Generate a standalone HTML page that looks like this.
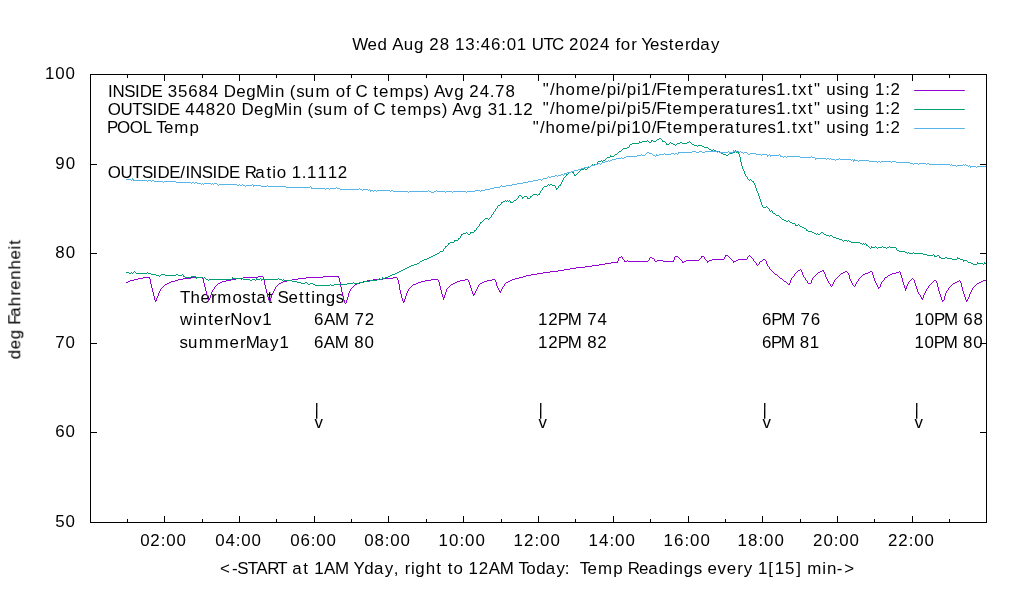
<!DOCTYPE html>
<html lang="en"><head><meta charset="utf-8"><title>Temperatures for Yesterday</title>
<style>html,body{margin:0;padding:0;background:#fff;}body{width:1020px;height:600px;overflow:hidden;font-family:"Liberation Sans",sans-serif;}svg{display:block;}text{font-family:"Liberation Sans",sans-serif;fill:#000;white-space:pre;}#text,#labels-back{filter:grayscale(1);}</style>
</head><body>
<svg width="1020" height="600" viewBox="0 0 1020 600">
<rect x="0" y="0" width="1020" height="600" fill="#ffffff"/>
<g id="labels-back">
<text transform="translate(0,302.80) scale(1.0,1)" x="180.01 190.49 200.57 211.00 217.37 232.44 242.14 251.21 256.38 267.39 273.15 277.61 288.56 298.94 305.26 311.17 315.71 325.79 335.78" y="0" font-size="16.9" xml:space="preserve">Thermostat Settings</text>
<text transform="translate(0,325.10) scale(1.0,1)" x="180.02 193.11 197.68 208.24 214.10 224.56 230.32 242.71 252.91 262.26" y="0" font-size="16.9" xml:space="preserve">winterNov1</text>
<text transform="translate(0,347.90) scale(1.0,1)" x="179.41 188.08 198.75 214.43 229.54 239.97 245.69 259.29 270.06 279.38" y="0" font-size="16.9" xml:space="preserve">summerMay1</text>
</g>
<g id="curves" fill="none" stroke-width="1" stroke-linejoin="miter" stroke-linecap="butt" shape-rendering="crispEdges">
<path stroke="#9400d3" d="M126,282.5h2M128,281.5h2M130,280.5h4M134,279.5h4M138,278.5h5M143,277.5h6M149.5,277v2M150.5,279v5M151.5,284v4M152.5,288v4M153.5,292v4M154.5,296v4M155.5,300v2M156.5,298v3M157.5,296v2M158.5,293v3M159.5,291v2M160.5,289v2M161,288.5h1M162,287.5h1M163,286.5h1M164,285.5h1M165,284.5h2M167,283.5h2M169,282.5h2M171,281.5h4M175,280.5h3M178,279.5h5M183,278.5h8M191,277.5h11M202.5,277v2M203.5,279v4M204.5,283v4M205.5,287v4M206.5,291v4M207.5,295v3M208.5,298v3M209.5,298v2M210.5,295v3M211.5,292v3M212.5,290v2M213,289.5h1M214.5,287v2M215,286.5h1M216,285.5h1M217,284.5h1M218,283.5h2M220,282.5h2M222,281.5h4M226,280.5h5M231,279.5h5M236,278.5h7M243,277.5h15M258,276.5h5M263.5,277v3M264.5,280v5M265.5,285v4M266.5,289v4M267.5,293v4M268.5,297v3M269.5,300v2M270.5,298v3M271.5,295v3M272.5,293v2M273.5,291v2M274.5,289v2M275.5,287v2M276,286.5h1M277,285.5h1M278,284.5h1M279,283.5h2M281,282.5h2M283,281.5h4M287,280.5h5M292,279.5h6M298,278.5h8M306,277.5h17M323,276.5h15M338.5,276v2M339.5,278v4M340.5,282v5M341.5,287v5M342.5,292v4M343.5,296v4M344.5,300v3M345,303.5h1M346.5,300v3M347.5,297v3M348.5,293v4M349.5,291v2M350.5,289v2M351,288.5h1M352,287.5h1M353,286.5h1M354,285.5h1M355,284.5h2M357,283.5h3M360,282.5h3M363,281.5h4M367,280.5h6M373,279.5h10M383,278.5h10M393,277.5h4M397.5,278v2M398.5,280v4M399.5,284v6M400.5,290v4M401.5,294v4M402.5,298v3M403.5,301v2M404.5,299v3M405.5,296v3M406.5,293v3M407.5,291v2M408.5,289v2M409,288.5h1M410,287.5h1M411,286.5h1M412,285.5h1M413,284.5h3M416,283.5h2M418,282.5h3M421,281.5h4M425,280.5h6M431,279.5h7M438.5,280v2M439.5,282v4M440.5,286v4M441.5,290v4M442.5,294v3M443.5,297v3M444.5,295v3M445.5,292v3M446.5,289v3M447,288.5h1M448,287.5h1M449,286.5h1M450,285.5h1M451,284.5h2M453,283.5h2M455,282.5h2M457,281.5h3M460,280.5h5M465,279.5h3M468.5,280v2M469.5,282v3M470.5,285v3M471.5,288v3M472.5,291v3M473.5,294v2M474.5,293v2M475.5,291v2M476.5,289v2M477.5,287v2M478.5,285v2M479,284.5h1M480,283.5h2M482,282.5h2M484,281.5h3M487,280.5h5M492,279.5h3M495.5,280v2M496.5,282v4M497.5,286v2M498.5,288v2M499.5,290v2M500.5,291v2M501.5,289v2M502.5,287v2M503,286.5h1M504.5,284v2M505,283.5h1M506,282.5h2M508,281.5h2M510,280.5h2M512,279.5h3M515,278.5h4M519,277.5h4M523,276.5h3M526,275.5h5M531,274.5h6M537,273.5h6M543,272.5h7M550,271.5h8M558,270.5h6M564,269.5h6M570,268.5h6M576,267.5h9M585,266.5h7M592,265.5h7M599,264.5h6M605,263.5h6M611,262.5h6M617.5,261v2M618.5,258v3M619,257.5h2M621,256.5h1M622.5,257v2M623,259.5h1M624.5,260v2M625,261.5h2M627,260.5h1M628,261.5h20M648,260.5h1M649.5,258v2M650,257.5h2M652,258.5h2M654.5,259v2M655,261.5h2M657,260.5h6M663,261.5h10M673.5,260v2M674.5,257v3M675,256.5h3M678,257.5h1M679,258.5h1M680,259.5h1M681,260.5h1M682.5,261v2M683,262.5h1M684,261.5h2M686,260.5h13M699,259.5h1M700,258.5h1M701.5,256v2M702,256.5h2M704.5,257v2M705,259.5h1M706,260.5h1M707.5,261v2M708,261.5h1M709,260.5h3M712,259.5h12M724.5,257v2M725.5,255v2M726,255.5h2M728,256.5h1M729,257.5h1M730,258.5h1M731,259.5h1M732,260.5h1M733.5,261v2M734,261.5h2M736,260.5h2M738,259.5h9M747.5,257v2M748,256.5h1M749,255.5h1M750,256.5h1M751,257.5h1M752,258.5h1M753.5,259v2M754,261.5h1M755,262.5h1M756.5,263v2M757,265.5h1M758,264.5h1M759.5,262v2M760,261.5h2M762,260.5h1M763,259.5h2M765,260.5h1M766.5,261v3M767.5,264v2M768,266.5h1M769.5,267v2M770,269.5h1M771,270.5h1M772,271.5h1M773,272.5h1M774,273.5h1M775,274.5h2M777,275.5h1M778,276.5h1M779,277.5h1M780,278.5h2M782,279.5h1M783,280.5h1M784,281.5h2M786,282.5h1M787,283.5h1M788,284.5h1M789.5,283v2M790.5,280v3M791.5,278v2M792,277.5h1M793,276.5h1M794.5,274v2M795,273.5h1M796,272.5h1M797,271.5h1M798,270.5h2M800,269.5h1M801.5,270v2M802.5,272v3M803.5,275v2M804,277.5h1M805.5,278v2M806,280.5h1M807.5,281v2M808,283.5h3M811.5,280v3M812.5,278v2M813,277.5h1M814,276.5h1M815,275.5h1M816,274.5h1M817,273.5h1M818,272.5h2M820,271.5h2M822,270.5h1M823.5,270v2M824.5,272v2M825.5,274v3M826.5,277v2M827.5,279v2M828.5,281v2M829,283.5h1M830.5,284v2M831,286.5h1M832.5,284v2M833.5,282v2M834.5,280v2M835,279.5h1M836,278.5h1M837,277.5h1M838,276.5h1M839,275.5h1M840,274.5h1M841,273.5h2M843,272.5h2M845,271.5h2M847,272.5h1M848.5,273v2M849.5,275v4M850.5,279v2M851.5,281v2M852.5,283v2M853,285.5h1M854,286.5h1M855.5,284v2M856.5,282v2M857,281.5h1M858.5,279v2M859,278.5h1M860,277.5h1M861,276.5h1M862,275.5h1M863,274.5h2M865,273.5h3M868,272.5h2M870,271.5h2M872.5,272v3M873.5,275v3M874.5,278v3M875.5,281v2M876.5,283v2M877.5,285v2M878.5,287v2M879,287.5h1M880.5,284v3M881.5,282v2M882,281.5h1M883,280.5h1M884.5,278v2M885,277.5h2M887,276.5h1M888,275.5h2M890,274.5h2M892,273.5h4M896,272.5h3M899,271.5h1M900.5,272v3M901.5,275v3M902.5,278v4M903.5,282v3M904.5,285v3M905.5,288v3M906.5,286v3M907.5,284v2M908.5,282v2M909,281.5h1M910,280.5h1M911,279.5h1M912,278.5h1M913,279.5h1M914.5,280v3M915.5,283v3M916.5,286v3M917.5,289v3M918.5,292v2M919,294.5h1M920.5,295v2M921.5,297v2M922.5,298v2M923.5,295v3M924.5,293v2M925.5,291v2M926.5,289v2M927,288.5h1M928.5,286v2M929,285.5h1M930,284.5h1M931,283.5h1M932,282.5h1M933,281.5h1M934,280.5h2M936.5,281v2M937.5,283v4M938.5,287v4M939.5,291v3M940.5,294v3M941.5,297v3M942.5,300v2M943,300.5h1M944.5,296v4M945.5,293v3M946.5,291v2M947,290.5h1M948.5,288v2M949,287.5h1M950,286.5h1M951,285.5h1M952,284.5h1M953,283.5h2M955,282.5h2M957,281.5h2M959,280.5h1M960.5,281v2M961.5,283v4M962.5,287v4M963.5,291v3M964.5,294v3M965.5,297v3M966.5,300v2M967.5,299v2M968.5,297v2M969.5,294v3M970.5,292v2M971.5,290v2M972.5,288v2M973,287.5h1M974,286.5h1M975,285.5h1M976,284.5h1M977,283.5h2M979,282.5h2M981,281.5h2M983,280.5h3"/>
<path stroke="#009e73" d="M126,272.5h3M129,273.5h2M131,272.5h1M132,273.5h1M133,272.5h1M134,271.5h1M135,272.5h1M136,273.5h11M147,272.5h1M148,273.5h3M151,274.5h5M156,275.5h3M159,276.5h1M160,275.5h1M161,274.5h4M165,275.5h11M176,274.5h2M178,275.5h4M182,274.5h1M183.5,275v2M184,276.5h1M185,277.5h6M191,276.5h5M196.5,277v2M197,277.5h6M203,278.5h1M204,277.5h1M205,278.5h1M206,279.5h2M208,280.5h1M209,279.5h23M232.5,277v2M233,278.5h8M241,279.5h1M242,278.5h1M243,279.5h7M250,280.5h2M252,279.5h3M255,280.5h1M256.5,278v2M257,279.5h3M260,278.5h1M261.5,279v2M262,279.5h16M278,278.5h1M279,279.5h3M282,280.5h1M283,279.5h1M284,280.5h8M292,281.5h5M297,282.5h4M301,283.5h4M305,282.5h2M307,283.5h1M308,284.5h2M310,283.5h3M313,284.5h2M315,285.5h15M330,284.5h1M331,285.5h3M334,284.5h13M347,283.5h6M353,282.5h1M354,283.5h5M359,282.5h5M364,281.5h6M370,280.5h7M377,279.5h2M379,278.5h1M380,279.5h2M382.5,277v2M383,278.5h2M385,277.5h3M388,276.5h2M390,275.5h2M392,274.5h3M395,273.5h2M397,272.5h2M399,271.5h2M401,270.5h2M403,269.5h2M405,268.5h2M407,267.5h2M409,266.5h2M411,265.5h3M414,264.5h3M417,263.5h2M419,262.5h1M420,261.5h2M422,260.5h2M424,259.5h3M427,258.5h2M429,257.5h2M431,256.5h2M433,255.5h2M435,254.5h2M437,253.5h2M439,252.5h1M440,251.5h3M443.5,249v2M444,248.5h1M445.5,246v2M446,246.5h1M447,245.5h1M448.5,243v2M449,243.5h1M450,242.5h4M454.5,240v2M455,240.5h3M458.5,238v2M459,238.5h1M460.5,236v2M461.5,234v2M462,234.5h1M463,233.5h3M466,232.5h1M467,233.5h1M468,234.5h2M470.5,232v2M471,232.5h3M474.5,230v2M475,230.5h1M476.5,228v2M477,227.5h1M478,226.5h1M479.5,224v2M480.5,222v2M481,222.5h1M482,221.5h1M483,220.5h1M484,219.5h1M485,218.5h3M488,219.5h1M489,218.5h1M490,217.5h1M491.5,215v2M492,214.5h1M493.5,212v2M494,211.5h1M495.5,209v2M496,208.5h1M497.5,206v2M498,205.5h2M500,204.5h1M501.5,202v2M502,202.5h1M503,201.5h2M505,200.5h1M506,201.5h1M507,200.5h1M508,201.5h1M509,200.5h1M510.5,201v2M511,202.5h2M513,201.5h1M514,200.5h2M516,199.5h1M517,198.5h1M518.5,196v2M519,195.5h2M521,196.5h1M522.5,197v2M523,197.5h1M524,196.5h3M527.5,197v2M528,198.5h2M530.5,196v2M531,196.5h1M532,195.5h1M533,194.5h4M537,195.5h1M538,194.5h1M539.5,193v2M540.5,191v2M541,190.5h1M542.5,188v2M543,187.5h1M544,186.5h3M547,185.5h1M548,184.5h1M549,185.5h1M550,184.5h2M552,185.5h3M555.5,186v2M556.5,188v2M557,188.5h1M558.5,186v2M559,185.5h1M560.5,184v2M561.5,182v2M562.5,180v2M563.5,178v2M564,177.5h1M565,176.5h1M566.5,174v2M567,174.5h1M568,173.5h1M569,172.5h2M571,171.5h1M572,172.5h1M573.5,172v2M574.5,174v2M575,175.5h1M576,174.5h1M577,173.5h1M578,172.5h1M579,171.5h1M580.5,169v2M581,169.5h3M584,168.5h1M585,169.5h2M587,168.5h1M588,167.5h2M590,166.5h1M591,165.5h1M592,164.5h1M593,165.5h1M594,164.5h3M597.5,162v2M598,161.5h3M601,160.5h1M602,161.5h1M603,160.5h2M605,159.5h1M606,158.5h1M607,157.5h3M610.5,155v2M611,156.5h3M614,155.5h1M615,154.5h2M617,153.5h1M618,152.5h1M619,151.5h2M621,150.5h1M622,149.5h1M623,148.5h4M627,147.5h2M629.5,145v2M630,144.5h2M632,143.5h7M639.5,141v2M640,142.5h2M642,141.5h5M647,140.5h1M648,141.5h1M649,142.5h2M651.5,140v2M652,140.5h1M653,141.5h3M656,140.5h1M657,139.5h2M659,138.5h2M661,139.5h1M662.5,140v2M663,141.5h2M665,142.5h1M666.5,143v2M667,144.5h2M669,143.5h1M670,142.5h1M671,143.5h2M673,144.5h2M675,145.5h1M676,144.5h1M677,143.5h3M680,142.5h2M682,143.5h5M687,142.5h2M689,141.5h1M690,142.5h1M691,143.5h1M692,144.5h2M694,145.5h3M697,146.5h1M698,145.5h4M702,146.5h2M704,147.5h4M708,148.5h1M709,149.5h2M711,150.5h2M713,149.5h1M714.5,150v2M715,150.5h1M716,151.5h4M720,152.5h1M721,153.5h2M723,154.5h3M726,155.5h2M728,154.5h1M729,153.5h4M733,152.5h2M735.5,150v2M736.5,151v2M737,151.5h1M738.5,152v2M739.5,154v3M740.5,157v5M741.5,162v4M742.5,166v3M743.5,169v2M744.5,171v3M745.5,174v2M746,176.5h1M747.5,177v2M748,179.5h1M749,180.5h1M750,179.5h1M751,180.5h1M752,181.5h1M753.5,181v2M754.5,183v2M755.5,185v3M756.5,188v3M757.5,191v2M758.5,193v3M759.5,196v3M760.5,199v3M761.5,202v3M762.5,205v2M763,207.5h3M766,206.5h1M767,207.5h1M768,208.5h1M769.5,209v2M770,211.5h1M771,210.5h1M772.5,211v2M773,213.5h2M775,214.5h1M776,215.5h3M779,216.5h1M780,217.5h1M781,218.5h1M782,219.5h2M784,220.5h2M786,221.5h2M788,220.5h1M789,221.5h1M790,222.5h2M792,223.5h3M795.5,224v2M796,225.5h2M798,224.5h1M799,225.5h1M800,226.5h2M802,227.5h2M804,228.5h2M806.5,229v2M807,230.5h1M808,231.5h4M812,232.5h2M814,233.5h2M816,234.5h1M817,233.5h1M818,234.5h2M820,233.5h1M821,232.5h2M823,233.5h1M824,234.5h2M826,235.5h3M829,236.5h1M830,235.5h2M832,236.5h1M833,237.5h3M836,238.5h3M839,239.5h3M842,240.5h1M843,241.5h1M844,240.5h3M847,241.5h1M848,240.5h1M849,241.5h2M851,242.5h9M860,243.5h2M862,244.5h1M863,243.5h1M864,244.5h1M865,243.5h1M866.5,244v2M867,245.5h1M868,246.5h1M869,247.5h1M870,248.5h1M871.5,246v2M872,247.5h3M875,246.5h1M876,247.5h1M877,248.5h1M878,247.5h4M882,246.5h1M883,247.5h3M886,248.5h1M887,247.5h2M889,246.5h1M890,247.5h6M896.5,248v2M897,250.5h2M899,251.5h6M905,252.5h2M907,253.5h1M908,252.5h1M909,253.5h4M913,252.5h1M914,253.5h9M923,254.5h4M927,255.5h6M933,254.5h1M934.5,255v2M935,256.5h2M937,255.5h2M939.5,256v2M940,257.5h1M941,258.5h4M945,257.5h2M947,258.5h5M952,259.5h5M957.5,257v2M958,258.5h2M960,259.5h3M963.5,260v2M964,260.5h3M967,261.5h1M968,262.5h3M971,263.5h2M973,264.5h4M977.5,262v2M978,263.5h5M983,264.5h1M984.5,262v2M985,263.5h1"/>
<path stroke="#56b4e9" d="M126,179.5h5M131,180.5h1M132.5,178v2M133.5,179v2M134,180.5h13M147,181.5h1M148,180.5h3M151,181.5h1M152,180.5h2M154,181.5h9M163,182.5h1M164,181.5h12M176,182.5h15M191,183.5h1M192,182.5h2M194,183.5h1M195,182.5h2M197,183.5h4M201,184.5h1M202,183.5h1M203,184.5h1M204,183.5h7M211,184.5h1M212,183.5h1M213,184.5h1M214,183.5h3M217,184.5h1M218,185.5h1M219,184.5h18M237,185.5h2M239,184.5h1M240,185.5h2M242,184.5h1M243,185.5h2M245,186.5h1M246,185.5h6M252,184.5h1M253.5,185v2M254,185.5h7M261,186.5h6M267,185.5h1M268,186.5h18M286,187.5h24M310,186.5h1M311.5,187v2M312,188.5h13M325,189.5h1M326,188.5h3M329,189.5h1M330,188.5h6M336,187.5h1M337,188.5h3M340,189.5h19M359,188.5h1M360,189.5h2M362,190.5h1M363,189.5h5M368,190.5h1M369,189.5h1M370.5,190v2M371,190.5h2M373,191.5h1M374,190.5h2M376,191.5h1M377,190.5h13M390,191.5h1M391,190.5h2M393,191.5h15M408,192.5h1M409,191.5h19M428,190.5h1M429,191.5h2M431,192.5h3M434,191.5h2M436,190.5h1M437,191.5h8M445,192.5h1M446,191.5h6M452,192.5h1M453,191.5h13M466,192.5h1M467,191.5h8M475,190.5h5M480,191.5h1M481,190.5h4M485,189.5h5M490,188.5h4M494,187.5h6M500,186.5h1M501,185.5h1M502,186.5h4M506,185.5h6M512,184.5h5M517,183.5h6M523,182.5h5M528,181.5h5M533,180.5h5M538,179.5h3M541,180.5h1M542,179.5h1M543,178.5h4M547,177.5h1M548,176.5h1M549,177.5h2M551,176.5h4M555,175.5h2M557,176.5h1M558,175.5h3M561,174.5h2M563,175.5h1M564.5,173v2M565,173.5h2M567,172.5h4M571,171.5h3M574,170.5h4M578,169.5h3M581,168.5h3M584,167.5h4M588,166.5h1M589,167.5h1M590,166.5h1M591,165.5h4M595,164.5h3M598,163.5h2M600,164.5h1M601,163.5h1M602,162.5h3M605,161.5h3M608,160.5h1M609,161.5h1M610,160.5h2M612,159.5h4M616,158.5h5M621,157.5h1M622,158.5h2M624,157.5h2M626,156.5h11M637,155.5h4M641,154.5h1M642,155.5h3M645,154.5h1M646,153.5h1M647,152.5h2M649,153.5h3M652,154.5h1M653,155.5h2M655,156.5h1M656.5,154v2M657,155.5h2M659,154.5h5M664,153.5h1M665,154.5h6M671,153.5h3M674,154.5h1M675,153.5h2M677,154.5h1M678.5,152v2M679,152.5h13M692,151.5h4M696,152.5h3M699,151.5h3M702,152.5h3M705,151.5h12M717,152.5h1M718,151.5h1M719,152.5h9M728,151.5h1M729.5,152v2M730,152.5h2M732.5,152v2M733.5,150v2M734,151.5h3M737,152.5h1M738,151.5h1M739,152.5h1M740,151.5h1M741,152.5h2M743,153.5h1M744,152.5h3M747,153.5h1M748,154.5h2M750,153.5h6M756,154.5h5M761,155.5h1M762,154.5h5M767.5,155v2M768,155.5h1M769,154.5h1M770.5,155v2M771,155.5h8M779,154.5h1M780.5,155v2M781,156.5h2M783,157.5h1M784,156.5h2M786,157.5h1M787,156.5h13M800,157.5h11M811,156.5h1M812,157.5h3M815.5,158v2M816,158.5h10M826,159.5h1M827,158.5h2M829,159.5h1M830,158.5h1M831,159.5h4M835,160.5h1M836,159.5h3M839,158.5h1M840,159.5h11M851,160.5h1M852,159.5h1M853.5,160v2M854.5,159v2M855,160.5h3M858,161.5h1M859,160.5h10M869,161.5h8M877,162.5h1M878,161.5h2M880,162.5h1M881,161.5h10M891,162.5h1M892,161.5h4M896,162.5h14M910,163.5h3M913,164.5h1M914,163.5h4M918,164.5h1M919,163.5h7M926,164.5h1M927,163.5h2M929,164.5h21M950,165.5h1M951,164.5h1M952,165.5h4M956,166.5h1M957,165.5h6M963,164.5h1M964,165.5h1M965,164.5h1M966,165.5h2M968,166.5h1M969,165.5h1M970.5,166v2M971,166.5h5M976,167.5h1M977,166.5h9M986,167.5h1"/>
</g>
<g id="axes" stroke="#000" stroke-width="1" fill="none" shape-rendering="crispEdges">
<path d="M127.5,523.0V519.0M127.5,74.0V78.0M164.5,523.0V516.0M164.5,74.0V81.0M202.5,523.0V519.0M202.5,74.0V78.0M239.5,523.0V516.0M239.5,74.0V81.0M276.5,523.0V519.0M276.5,74.0V78.0M314.5,523.0V516.0M314.5,74.0V81.0M351.5,523.0V519.0M351.5,74.0V78.0M388.5,523.0V516.0M388.5,74.0V81.0M426.5,523.0V519.0M426.5,74.0V78.0M463.5,523.0V516.0M463.5,74.0V81.0M501.5,523.0V519.0M501.5,74.0V78.0M538.5,523.0V516.0M538.5,74.0V81.0M575.5,523.0V519.0M575.5,74.0V78.0M613.5,523.0V516.0M613.5,74.0V81.0M650.5,523.0V519.0M650.5,74.0V78.0M688.5,523.0V516.0M688.5,74.0V81.0M725.5,523.0V519.0M725.5,74.0V78.0M762.5,523.0V516.0M762.5,74.0V81.0M800.5,523.0V519.0M800.5,74.0V78.0M837.5,523.0V516.0M837.5,74.0V81.0M874.5,523.0V519.0M874.5,74.0V78.0M912.5,523.0V516.0M912.5,74.0V81.0M949.5,523.0V519.0M949.5,74.0V78.0M90.0,432.5H97.0M987.0,432.5H980.0M90.0,343.5H97.0M987.0,343.5H980.0M90.0,253.5H97.0M987.0,253.5H980.0M90.0,164.5H97.0M987.0,164.5H980.0"/>
<rect x="90.5" y="74.5" width="896.0" height="448.0"/>
</g>
<g id="key-lines" stroke-width="1" fill="none">
<path stroke="#9400d3" d="M914.2,90.5H964.8"/>
<path stroke="#009e73" d="M914.2,109.5H964.8"/>
<path stroke="#56b4e9" d="M914.2,128.5H964.8"/>
</g>
<g id="text">
<text transform="translate(0,50.00) scale(1.0,1)" x="352.33 367.59 377.51 387.61 392.37 403.87 414.00 424.11 429.21 439.64 449.67 454.89 465.23 475.38 480.84 491.07 501.25 506.71 516.85 526.96 531.64 543.38 551.92 563.93 569.03 579.47 589.48 599.92 609.94 615.53 620.73 631.14 637.15 641.33 650.02 659.70 668.76 674.58 684.99 690.82 700.34 711.09" y="0" font-size="16.9" xml:space="preserve">Wed Aug 28 13:46:01 UTC 2024 for Yesterday</text>
<text transform="translate(0,79.10) scale(1.0,1)" x="44.89 55.29 65.61" y="0" font-size="16.9" xml:space="preserve">100</text>
<text transform="translate(0,169.10) scale(1.0,1)" x="55.35 65.64" y="0" font-size="16.9" xml:space="preserve">90</text>
<text transform="translate(0,258.10) scale(1.0,1)" x="55.34 65.63" y="0" font-size="16.9" xml:space="preserve">80</text>
<text transform="translate(0,348.10) scale(1.0,1)" x="55.13 65.58" y="0" font-size="16.9" xml:space="preserve">70</text>
<text transform="translate(0,437.10) scale(1.0,1)" x="55.32 65.62" y="0" font-size="16.9" xml:space="preserve">60</text>
<text transform="translate(0,527.10) scale(1.0,1)" x="55.16 65.59" y="0" font-size="16.9" xml:space="preserve">50</text>
<text transform="translate(0,545.90) scale(1.0,1)" x="140.35 150.37 160.76 166.22 176.45" y="0" font-size="16.9" xml:space="preserve">02:00</text>
<text transform="translate(0,545.90) scale(1.0,1)" x="215.35 225.58 235.76 241.22 251.45" y="0" font-size="16.9" xml:space="preserve">04:00</text>
<text transform="translate(0,545.90) scale(1.0,1)" x="290.35 300.58 310.76 316.22 326.45" y="0" font-size="16.9" xml:space="preserve">06:00</text>
<text transform="translate(0,545.90) scale(1.0,1)" x="364.35 374.58 384.76 390.22 400.45" y="0" font-size="16.9" xml:space="preserve">08:00</text>
<text transform="translate(0,545.90) scale(1.0,1)" x="438.62 449.09 459.40 464.99 475.38" y="0" font-size="16.9" xml:space="preserve">10:00</text>
<text transform="translate(0,545.90) scale(1.0,1)" x="513.62 523.88 534.40 539.99 550.38" y="0" font-size="16.9" xml:space="preserve">12:00</text>
<text transform="translate(0,545.90) scale(1.0,1)" x="588.62 599.09 609.40 614.99 625.38" y="0" font-size="16.9" xml:space="preserve">14:00</text>
<text transform="translate(0,545.90) scale(1.0,1)" x="663.62 674.09 684.40 689.99 700.38" y="0" font-size="16.9" xml:space="preserve">16:00</text>
<text transform="translate(0,545.90) scale(1.0,1)" x="737.62 748.09 758.40 763.99 774.38" y="0" font-size="16.9" xml:space="preserve">18:00</text>
<text transform="translate(0,545.90) scale(1.0,1)" x="813.03 823.50 833.70 839.18 849.44" y="0" font-size="16.9" xml:space="preserve">20:00</text>
<text transform="translate(0,545.90) scale(1.0,1)" x="888.03 898.29 908.70 914.18 924.44" y="0" font-size="16.9" xml:space="preserve">22:00</text>
<text transform="translate(0,574.30) scale(1.0,1)" x="220.11 231.90 237.19 247.63 256.33 267.25 277.29 287.59 292.13 303.15 308.92 314.17 323.97 335.04 349.25 353.45 364.33 373.88 384.67 393.72 399.02 404.74 410.93 415.36 425.69 436.27 442.03 447.71 453.50 463.35 468.60 478.73 488.65 499.73 513.94 518.62 526.20 536.15 545.70 556.49 564.69 569.96 575.09 579.77 587.41 597.89 613.26 623.19 627.86 638.88 648.14 658.71 669.00 673.55 683.65 693.65 702.18 707.38 717.56 726.85 737.29 743.65 752.87 758.12 768.21 774.67 784.95 796.27 801.36 807.13 822.35 826.90 836.77 844.31" y="0" font-size="16.9" xml:space="preserve">&lt;-START at 1AM Yday, right to 12AM Today:  Temp Readings every 1[15] min-&gt;</text>
<text transform="translate(20.3,358.75) rotate(-90) scale(1.0,1)" x="-0.58 9.61 19.54 29.65 33.99 41.96 52.61 63.20 68.94 78.99 89.17 99.24 109.22 114.09" y="0" font-size="16.9">deg Fahrenheit</text>
<text transform="translate(0,96.60) scale(1.0,1)" x="107.95 112.58 124.26 134.94 139.77 151.44 162.42 167.76 177.91 188.21 198.44 208.68 218.71 223.73 236.28 246.21 256.02 270.36 274.89 284.87 289.67 296.13 304.79 315.46 330.50 335.63 345.94 351.12 355.45 367.47 373.14 378.96 389.42 404.76 414.54 423.60 429.33 434.10 444.83 454.13 464.24 469.35 479.79 489.82 495.11 505.38" y="0" font-size="16.9" xml:space="preserve">INSIDE 35684 DegMin (sum of C temps) Avg 24.78</text>
<text transform="translate(0,114.60) scale(1.0,1)" x="107.67 120.38 132.14 141.79 152.48 157.33 169.01 180.01 185.34 195.59 205.85 215.89 226.36 236.40 241.44 254.01 263.95 273.78 288.14 292.69 302.67 307.49 313.96 322.64 333.34 348.39 353.54 363.86 369.05 373.39 385.43 391.11 396.95 407.42 422.79 432.59 441.65 447.40 452.18 462.93 472.24 482.37 487.72 497.87 507.99 513.24 523.37" y="0" font-size="16.9" xml:space="preserve">OUTSIDE 44820 DegMin (sum of C temps) Avg 31.12</text>
<text transform="translate(0,132.60) scale(1.0,1)" x="107.09 117.03 129.65 142.63 151.66 156.29 163.89 174.30 189.59" y="0" font-size="16.9" xml:space="preserve">POOL Temp</text>
<text transform="translate(0,178.00) scale(1.0,1)" x="107.77 120.48 132.25 141.90 152.60 157.45 169.14 180.29 185.38 190.03 201.74 212.43 217.29 228.98 239.97 244.64 255.37 266.38 272.30 276.65 286.49 291.74 301.87 307.12 317.38 327.64 337.77" y="0" font-size="16.9" xml:space="preserve">OUTSIDE/INSIDE Ratio 1.1112</text>
<text transform="translate(0,94.90) scale(1.0,1)" x="542.86 549.94 555.42 565.46 575.95 591.09 601.09 606.67 616.76 621.24 626.82 636.91 641.36 651.65 656.16 666.76 672.60 683.09 698.46 708.47 718.91 724.36 735.38 741.31 751.97 757.72 767.44 776.10 786.22 791.91 797.97 807.78 814.04 820.96 826.25 836.18 844.87 849.42 859.52 869.65 874.90 885.19 890.47" y="0" font-size="16.9" xml:space="preserve">&quot;/home/pi/pi1/Ftemperatures1.txt&quot; using 1:2</text>
<text transform="translate(0,113.90) scale(1.0,1)" x="542.86 549.94 555.42 565.46 575.95 591.09 601.09 606.67 616.76 621.24 626.82 636.91 641.38 651.65 656.16 666.76 672.60 683.09 698.46 708.47 718.91 724.36 735.38 741.31 751.97 757.72 767.44 776.10 786.22 791.91 797.97 807.78 814.04 820.96 826.25 836.18 844.87 849.42 859.52 869.65 874.90 885.19 890.47" y="0" font-size="16.9" xml:space="preserve">&quot;/home/pi/pi5/Ftemperatures1.txt&quot; using 1:2</text>
<text transform="translate(0,132.80) scale(1.0,1)" x="532.86 539.93 545.41 555.44 565.92 581.05 591.04 596.62 606.70 611.18 616.76 626.84 631.29 641.62 651.82 656.32 666.92 672.76 683.24 698.60 708.60 719.04 724.48 735.50 741.42 752.07 757.82 767.53 776.18 786.30 791.99 798.04 807.84 814.10 821.02 826.30 836.23 844.90 849.45 859.54 869.67 874.92 885.20 890.47" y="0" font-size="16.9" xml:space="preserve">&quot;/home/pi/pi10/Ftemperatures1.txt&quot; using 1:2</text>
<text transform="translate(0,325.10) scale(1.0,1)" x="314.12 323.88 335.02 349.28 354.62 364.75" y="0" font-size="16.9" xml:space="preserve">6AM 72</text>
<text transform="translate(0,347.90) scale(1.0,1)" x="314.08 323.75 334.77 348.94 354.24 364.46" y="0" font-size="16.9" xml:space="preserve">6AM 80</text>
<text transform="translate(0,325.10) scale(1.0,1)" x="538.05 548.14 557.63 567.72 581.88 587.15 597.39" y="0" font-size="16.9" xml:space="preserve">12PM 74</text>
<text transform="translate(0,347.90) scale(1.0,1)" x="538.06 548.18 557.70 567.83 582.02 587.35 597.37" y="0" font-size="16.9" xml:space="preserve">12PM 82</text>
<text transform="translate(0,325.10) scale(1.0,1)" x="761.95 771.15 781.16 795.26 800.47 810.63" y="0" font-size="16.9" xml:space="preserve">6PM 76</text>
<text transform="translate(0,347.90) scale(1.0,1)" x="761.89 770.94 780.79 794.74 799.87 809.76" y="0" font-size="16.9" xml:space="preserve">6PM 81</text>
<text transform="translate(0,325.10) scale(1.0,1)" x="914.43 924.67 933.88 943.91 958.01 963.27 973.41" y="0" font-size="16.9" xml:space="preserve">10PM 68</text>
<text transform="translate(0,347.90) scale(1.0,1)" x="914.42 924.62 933.80 943.79 957.86 963.08 973.20" y="0" font-size="16.9" xml:space="preserve">10PM 80</text>
<text transform="translate(316.7,415.15) rotate(0.2)" x="0" y="0" text-anchor="middle" font-size="16.9">|</text>
<text transform="translate(0,427.90) scale(1.0,1)" x="314.52" y="0" font-size="16.9" xml:space="preserve">v</text>
<text transform="translate(540.7,415.15) rotate(0.2)" x="0" y="0" text-anchor="middle" font-size="16.9">|</text>
<text transform="translate(0,427.90) scale(1.0,1)" x="538.53" y="0" font-size="16.9" xml:space="preserve">v</text>
<text transform="translate(764.7,415.15) rotate(0.2)" x="0" y="0" text-anchor="middle" font-size="16.9">|</text>
<text transform="translate(0,427.90) scale(1.0,1)" x="762.53" y="0" font-size="16.9" xml:space="preserve">v</text>
<text transform="translate(916.7,415.15) rotate(0.2)" x="0" y="0" text-anchor="middle" font-size="16.9">|</text>
<text transform="translate(0,427.90) scale(1.0,1)" x="914.53" y="0" font-size="16.9" xml:space="preserve">v</text>
</g>
</svg>
</body></html>
